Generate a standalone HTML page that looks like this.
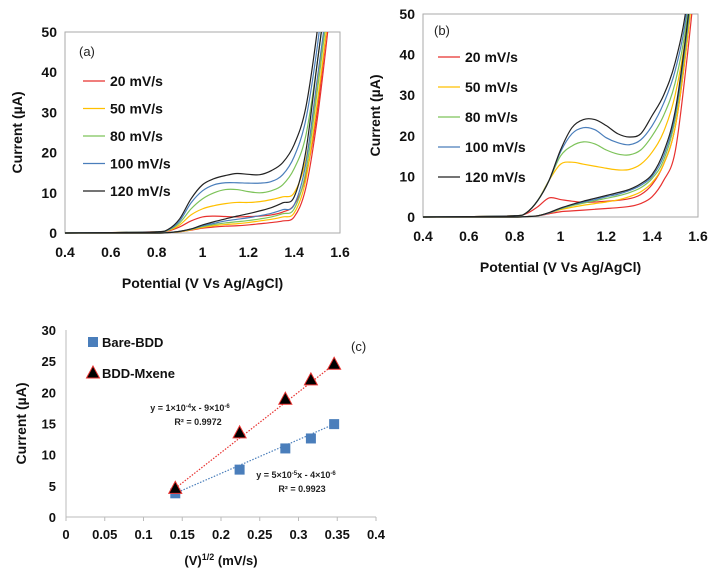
<!DOCTYPE html>
<html><head><meta charset="utf-8"><style>
html,body{margin:0;padding:0;background:#fff}
svg{display:block}
text{font-family:"Liberation Sans",Arial,sans-serif}
.tk{font-size:14px;font-weight:bold;fill:#111}
.ttl{font-size:14px;font-weight:bold;fill:#111}
.lg{font-size:14px;font-weight:bold;fill:#111}
</style></head><body>
<svg id="fig" width="720" height="576" viewBox="0 0 720 576" xmlns="http://www.w3.org/2000/svg">
<defs>
<clipPath id="clipA"><rect x="65" y="32" width="275" height="202"/></clipPath>
<clipPath id="clipB"><rect x="423" y="14" width="275" height="204"/></clipPath>
</defs>
<g id="pa"></g>
<g id="pb"></g>
<g id="pc"></g>
</svg>
<script>
const NS="http://www.w3.org/2000/svg";
const volts=[0.4,0.6,0.8,0.85,0.9,0.95,1.0,1.05,1.1,1.15,1.2,1.25,1.3,1.35,1.4,1.45,1.5,1.55,1.6];
const rateLabels=["20 mV/s","50 mV/s","80 mV/s","100 mV/s","120 mV/s"];
const aForward=[
[0,0.1,0.3,0.5,1.5,3,4,4.2,4.1,4,4.1,4.2,4.5,5.2,7,14,30,55,80],
[0,0.1,0.3,0.6,2,4.5,6,6.8,7.3,7.6,7.6,7.8,8.3,9,10,18,36,60,85],
[0,0.1,0.3,0.7,2.5,6,8.5,10,10.8,10.8,10.3,10,10.5,12,16,24,42,65,90],
[0,0.1,0.3,0.8,3,7.5,10.5,12,12.5,12.5,12.4,12.4,12.8,14.5,19,28,46,70,95],
[0,0.1,0.3,0.9,3.5,8.5,12,13.5,14.3,14.8,14.6,14.5,15.5,17.5,22,31,50,75,100]];
const aReverse=[
[0,0,0,0.1,0.3,0.7,1.2,1.5,1.7,1.8,2,2.3,2.6,3,4,11,28,52,80],
[0,0,0,0.1,0.3,0.8,1.4,1.8,2.1,2.3,2.6,3,3.4,4,5,13,32,55,82],
[0,0,0,0.1,0.4,0.9,1.6,2.1,2.5,2.8,3.1,3.5,4,4.8,6,15,35,58,85],
[0,0,0,0.1,0.4,1,1.8,2.4,3,3.4,3.8,4.3,4.9,5.8,7,17,38,60,88],
[0,0,0,0.1,0.4,1,2,2.8,3.5,4.2,4.8,5.5,6.3,7.5,9,20,42,64,90]];
const bForward=[
[0,0.1,0.3,0.8,2.5,4.7,4.3,3.9,3.6,3.7,3.9,4.1,4.5,5.5,8,13,22,42,70],
[0,0.1,0.3,1,4,9,13,13.5,13,12.5,12,11.6,11.7,13,16,21,30,46,72],
[0,0.1,0.3,1,4,9,15,17.5,18.5,18,16.5,15.5,15.3,16.5,20,25,33,48,74],
[0,0.1,0.3,1,4,9,16,20.5,22,21.5,19.5,18.3,17.8,19,22.5,28,36,50,76],
[0,0.1,0.3,1,4,9,16.5,22,24,24,22.5,20.5,19.7,20.5,25,30,38,52,78]];
const bReverse=[
[0,0,0,0.1,0.3,0.8,1.3,1.5,1.7,1.9,2.1,2.3,2.6,3.3,5,9,16,38,65],
[0,0,0,0.1,0.3,1,1.8,2.4,2.9,3.3,3.7,4.2,5,6.2,8.5,13,22,42,68],
[0,0,0,0.1,0.3,1,2,2.8,3.4,4,4.6,5.2,6,7.2,9.5,14,24,44,70],
[0,0,0,0.1,0.3,1,2.1,3,3.7,4.3,5,5.6,6.5,7.8,10,15,25,45,71],
[0,0,0,0.1,0.3,1.1,2.2,3.1,3.9,4.6,5.3,6,6.8,8.2,10.5,16,26,46,72]];
const xTicksV=[0.4,0.6,0.8,1,1.2,1.4,1.6];
const yTicksI=[0,10,20,30,40,50];
const sqrtRate=[0.141,0.224,0.283,0.316,0.346];
const bareBDD=[3.8,7.6,11,12.6,14.9];
const mxeneBDD=[4.6,13.5,18.9,22,24.5];
const cXTicks=[0,0.05,0.1,0.15,0.2,0.25,0.3,0.35,0.4];
const cYTicks=[0,5,10,15,20,25,30];
const colors=["#e8312f","#ffc000","#7dc35a","#4a7ebb","#222222"];

function el(p,tag,attrs,txt){const e=document.createElementNS(NS,tag);for(const k in attrs)e.setAttribute(k,attrs[k]);if(txt!==undefined)e.textContent=txt;p.appendChild(e);return e;}
function smooth(pts){let d="M"+pts[0][0]+","+pts[0][1];for(let i=0;i<pts.length-1;i++){const p0=pts[i-1]||pts[i],p1=pts[i],p2=pts[i+1],p3=pts[i+2]||p2;const c1=[p1[0]+(p2[0]-p0[0])/6,p1[1]+(p2[1]-p0[1])/6],c2=[p2[0]-(p3[0]-p1[0])/6,p2[1]-(p3[1]-p1[1])/6];d+=` C${c1[0]},${c1[1]} ${c2[0]},${c2[1]} ${p2[0]},${p2[1]}`;}return d;}

function cvPanel(g,o,fwd,rev,tag,clip){
  const sx=v=>o.x0+(v-0.4)/1.2*(o.x1-o.x0), sy=i=>o.y0-(i/50)*(o.y0-o.y1);
  el(g,"rect",{x:o.x0,y:o.y1,width:o.x1-o.x0,height:o.y0-o.y1,fill:"none",stroke:"#aaa","stroke-width":1,});
  xTicksV.forEach(v=>{const t=el(g,"text",{x:sx(v),y:o.y0+24,"text-anchor":"middle",class:"tk"},String(v));
    
    });
  yTicksI.forEach(v=>{const t=el(g,"text",{x:o.x0-8,y:sy(v)+5,"text-anchor":"end",class:"tk"},String(v));
    
    });
  const xt=el(g,"text",{x:(o.x0+o.x1)/2,y:o.y0+55,"text-anchor":"middle",class:"ttl"},"Potential (V Vs Ag/AgCl)");
  
  
  const yt=el(g,"text",{x:0,y:0,transform:`translate(${o.x0-43},${(o.y0+o.y1)/2}) rotate(-90)`,"text-anchor":"middle",class:"ttl"},"Current (µA)");
  
  
  const cg=el(g,"g",{"clip-path":`url(#${clip})`});
  for(let s=0;s<5;s++){
    [fwd[s],rev[s]].forEach((arr,k)=>{
      const pts=volts.map((v,i)=>[sx(v),sy(arr[i])]);
      const p=el(cg,"path",{d:smooth(pts),fill:"none",stroke:colors[s],"stroke-width":1.2});
      
      
    });
  }
  const lt=el(g,"text",{x:o.lx-4,y:o.tagY,style:"font-size:13px;fill:#222"},tag);
  
  
  rateLabels.forEach((lab,s)=>{
    const y=o.ly0+s*o.ldy;
    const ln=el(g,"line",{x1:o.lx,x2:o.lx+22,y1:y,y2:y,stroke:colors[s],"stroke-width":1.3});
    
    
    const t=el(g,"text",{x:o.lx+27,y:y+5,class:"lg"},lab);
    
    
  });
}
cvPanel(document.getElementById("pa"),{x0:65,x1:340,y0:233,y1:32,lx:83,ly0:81,ldy:27.5,tagY:56},aForward,aReverse,"(a)","clipA");
cvPanel(document.getElementById("pb"),{x0:423,x1:698,y0:217,y1:14,lx:438,ly0:57,ldy:30,tagY:35},bForward,bReverse,"(b)","clipB");

// panel c
(function(){
  const g=document.getElementById("pc");
  const X0=66,X1=376,Y0=517,Y1=330;
  const sx=v=>X0+v/0.4*(X1-X0), sy=v=>Y0-v/30*(Y0-Y1);
  el(g,"line",{x1:X0,x2:X1,y1:Y0,y2:Y0,stroke:"#bbb"});
  el(g,"line",{x1:X0,x2:X0,y1:Y0,y2:Y1,stroke:"#bbb"});
  cXTicks.forEach(v=>{el(g,"line",{x1:sx(v),x2:sx(v),y1:Y0,y2:Y0+4,stroke:"#bbb"});
    const t=el(g,"text",{x:sx(v),y:Y0+22,"text-anchor":"middle",class:"tk",style:"font-size:13px"},String(v));
    
    });
  cYTicks.forEach(v=>{const t=el(g,"text",{x:X0-10,y:sy(v)+5,"text-anchor":"end",class:"tk",style:"font-size:13px"},String(v));
    
    });
  const xt=el(g,"text",{x:(X0+X1)/2,y:Y0+48,"text-anchor":"middle",class:"ttl",style:"font-size:13px"});
  xt.innerHTML='(V)<tspan dy="-5" style="font-size:9px">1/2</tspan><tspan dy="5"> (mV/s)</tspan>';
  
  
  const yt=el(g,"text",{x:0,y:0,transform:`translate(${X0-40},${(Y0+Y1)/2}) rotate(-90)`,"text-anchor":"middle",class:"ttl"},"Current (µA)");
  
  
  const n=sqrtRate.length;
  const tb=el(g,"line",{x1:sx(sqrtRate[0]),y1:sy(bareBDD[0]),x2:sx(sqrtRate[n-1]),y2:sy(bareBDD[n-1]),stroke:"#4a7ebb","stroke-dasharray":"1.5,1.5","stroke-width":1.2});
  
  
  const tm=el(g,"line",{x1:sx(sqrtRate[0]),y1:sy(mxeneBDD[0]),x2:sx(sqrtRate[n-1]),y2:sy(mxeneBDD[n-1]),stroke:"#e8312f","stroke-dasharray":"1.5,1.5","stroke-width":1.2});
  
  
  sqrtRate.forEach((x,i)=>{
    const r=el(g,"rect",{x:sx(x)-5,y:sy(bareBDD[i])-5,width:10,height:10,fill:"#4a7ebb"});
    
    
  });
  sqrtRate.forEach((x,i)=>{
    const cx=sx(x),cy=sy(mxeneBDD[i]);
    const t=el(g,"polygon",{points:`${cx},${cy-7} ${cx-6.5},${cy+5} ${cx+6.5},${cy+5}`,fill:"#000",stroke:"#e8312f","stroke-width":1});
    
    
  });
  const ls=el(g,"rect",{x:88,y:337,width:10,height:10,fill:"#4a7ebb"});
  
  
  const l1=el(g,"text",{x:102,y:347,class:"lg",style:"font-size:13px"},"Bare-BDD");
  
  
  const lt=el(g,"polygon",{points:"93,366 86.5,378 99.5,378",fill:"#000",stroke:"#e8312f"});
  
  
  const l2=el(g,"text",{x:102,y:378,class:"lg",style:"font-size:13px"},"BDD-Mxene");
  
  
  const pl=el(g,"text",{x:351,y:351,style:"font-size:13px;fill:#222"},"(c)");
  
  
  const e1=el(g,"text",{x:190,y:411,"text-anchor":"middle",style:"font-size:9px;font-weight:bold;fill:#222"});
  e1.innerHTML='y = 1×10<tspan dy="-3" style="font-size:6px">-4</tspan><tspan dy="3">x - 9×10</tspan><tspan dy="-3" style="font-size:6px">-6</tspan>';
  
  
  const r1=el(g,"text",{x:198,y:425,"text-anchor":"middle",style:"font-size:9px;font-weight:bold;fill:#222"},"R² = 0.9972");
  
  
  const e2=el(g,"text",{x:296,y:478,"text-anchor":"middle",style:"font-size:9px;font-weight:bold;fill:#222"});
  e2.innerHTML='y = 5×10<tspan dy="-3" style="font-size:6px">-5</tspan><tspan dy="3">x - 4×10</tspan><tspan dy="-3" style="font-size:6px">-6</tspan>';
  
  
  const r2=el(g,"text",{x:302,y:492,"text-anchor":"middle",style:"font-size:9px;font-weight:bold;fill:#222"},"R² = 0.9923");
  
  
})();
</script>
</body></html>
